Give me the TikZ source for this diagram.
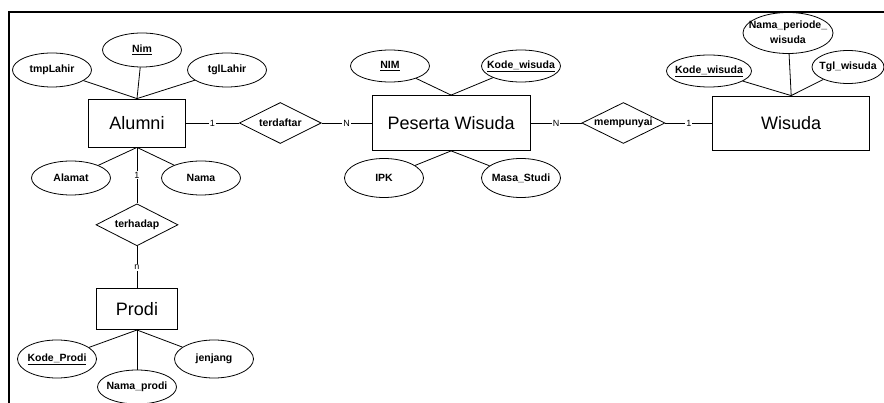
\documentclass[tikz,border=0pt]{standalone}
\usepackage{fontspec}
\setmainfont{Liberation Sans}
\usetikzlibrary{positioning,shapes.geometric}
\newcommand{\nobox}[1]{\makebox[0pt]{#1}}

\begin{document}
\begin{tikzpicture}[x=1pt, y=-1pt, line width=0.8pt,
  entity/.style={draw, rectangle, inner sep=0pt, font=\fontsize{18}{20}\selectfont},
  relation/.style={draw, diamond, aspect=2, inner sep=0pt, minimum width=82pt, minimum height=41pt, font=\fontsize{10.5}{12}\selectfont\bfseries},
  attr/.style={draw, ellipse, inner sep=0pt, minimum width=79pt, minimum height=34pt, font=\fontsize{10.5}{12}\selectfont\bfseries},
  card/.style={fill=white, inner sep=1pt, font=\fontsize{9}{10}\selectfont}]
\useasboundingbox (0,0) rectangle (884,403);
\draw[line width=2.2pt] (884,12) -- (9,12) -- (9,403);

% entities and relations
\node[entity, minimum width=97pt, minimum height=48pt] (alumni) at (137,123) {Alumni};
\node[relation, right=53pt of alumni] (terdaftar) {\nobox{terdaftar}};
\node[entity, minimum width=158pt, minimum height=55pt, right=50pt of terdaftar] (peserta) {Peserta Wisuda};
\node[relation, minimum width=83pt, right=51pt of peserta] (mempunyai) {\nobox{mempunyai}};
\node[entity, minimum width=157pt, minimum height=54pt, right=47pt of mempunyai] (wisuda) {Wisuda};
\node[relation, minimum height=42pt, below=56pt of alumni] (terhadap) {\nobox{terhadap}};
\node[entity, minimum width=81pt, minimum height=41pt, below=42pt of terhadap] (prodi) {Prodi};

% attributes
\node[attr] (tmplahir) at (52,70) {\nobox{tmpLahir}};
\node[attr] (nim) at (142,50) {\nobox{\underline{Nim}}};
\node[attr] (tgllahir) at (227,70) {\nobox{tglLahir}};
\node[attr] (alamat) at (71,178) {\nobox{Alamat}};
\node[attr] (nama) at (201,178) {\nobox{Nama}};
\node[attr, minimum height=32pt] (nimpeserta) at (390,66) {\nobox{\underline{NIM}}};
\node[attr, minimum height=32pt] (kodepeserta) at (521,66) {\nobox{\underline{Kode\_wisuda}}};
\node[attr, minimum height=39pt] (ipk) at (384,178) {\nobox{IPK}};
\node[attr, minimum height=39pt] (masastudi) at (521,178) {\nobox{Masa\_Studi}};
\node[attr, minimum width=85pt, minimum height=32pt] (kodewisuda) at (709,71) {\nobox{\underline{Kode\_wisuda}}};
\node[attr, minimum width=90pt, minimum height=40pt, font=\fontsize{10.5}{14.5}\selectfont\bfseries] (periode) at (788,33) {\nobox{\begin{tabular}{@{}c@{}}Nama\_periode\_\\wisuda\end{tabular}}};
\node[attr, minimum width=72pt, minimum height=33pt] (tglwisuda) at (848,67) {\nobox{Tgl\_wisuda}};
\node[attr, minimum height=38pt] (kodeprodi) at (57,359) {\nobox{\underline{Kode\_Prodi}}};
\node[attr] (namaprodi) at (137,387) {\nobox{Nama\_prodi}};
\node[attr, minimum height=38pt] (jenjang) at (214,359) {\nobox{jenjang}};

% attribute lines
\draw (tmplahir) -- (alumni.north);
\draw (nim) -- (alumni.north);
\draw (tgllahir) -- (alumni.north);
\draw (alamat) -- (alumni.south);
\draw (nama) -- (alumni.south);
\draw (nimpeserta) -- (peserta.north);
\draw (kodepeserta) -- (peserta.north);
\draw (ipk) -- (peserta.south);
\draw (masastudi) -- (peserta.south);
\draw (kodewisuda) -- (wisuda.north);
\draw (periode) -- (wisuda.north);
\draw (tglwisuda) -- (wisuda.north);
\draw (kodeprodi) -- (prodi.south);
\draw (namaprodi) -- (prodi.south);
\draw (jenjang) -- (prodi.south);

% relation lines
\draw (alumni) -- node[card] {1} (terdaftar);
\draw (terdaftar) -- node[card] {N} (peserta);
\draw (peserta) -- node[card] {N} (mempunyai);
\draw (mempunyai) -- node[card] {1} (wisuda);
\draw (alumni) -- node[card] {1} (terhadap);
\draw (terhadap) -- node[card] {n} (prodi);
\end{tikzpicture}
\end{document}
